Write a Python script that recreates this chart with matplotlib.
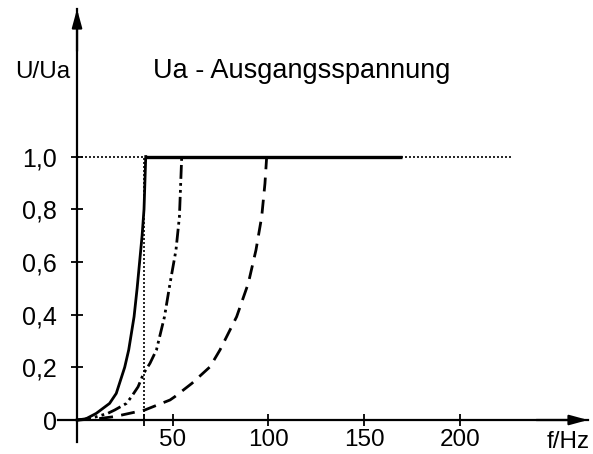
import matplotlib

matplotlib.use("Agg")
import matplotlib.pyplot as plt  # noqa: E402

plt.rcParams["font.family"] = ["Liberation Sans", "DejaVu Sans"]

# curves (f in Hz, U/Ua)
solid_f = [0, 4, 10, 17, 20.5, 24.9, 27.0, 29.8, 31.4, 32.7, 34, 35, 35.9]
solid_u = [0, 0.002, 0.025, 0.063, 0.101, 0.2, 0.266, 0.392, 0.5, 0.6, 0.7, 0.8, 1.0]
dashdot_f = [0, 8, 16, 19.7, 25.8, 28.4, 31.9, 34.8, 38.1, 41.5, 45.7, 48.6, 51.7,
             53.5, 54.7]
dashdot_u = [0, 0.008, 0.025, 0.038, 0.063, 0.088, 0.126, 0.177, 0.215, 0.266, 0.392,
             0.519, 0.645, 0.772, 1.0]
dashed_f = [0, 10, 19.7, 35.4, 48.6, 51, 60, 69.5, 74.7, 83.4, 89.5, 93.5, 96.5,
            98.2, 99.1]
dashed_u = [0, 0.004, 0.013, 0.038, 0.076, 0.088, 0.139, 0.202, 0.266, 0.392, 0.519,
            0.645, 0.772, 0.898, 1.0]

plateau_f = [35.9, 170]
reference_f = [0, 227]
marker_f = 35.2

x_ticks = [marker_f, 50, 100, 150, 200]
x_labels = ["", "50", "100", "150", "200"]
y_ticks = [0, 0.2, 0.4, 0.6, 0.8, 1.0]
y_labels = ["0", "0,2", "0,4", "0,6", "0,8", "1,0"]

fig = plt.figure(figsize=(5.93, 4.54), dpi=100)
ax = fig.add_axes([57.9 / 593, 11.6 / 454, (588 - 57.9) / 593, (445 - 11.6) / 454])
ax.set_xlim(-10, 267)
ax.set_ylim(-0.085, 1.56)

for side in ("top", "right"):
    ax.spines[side].set_visible(False)
ax.spines["left"].set_position(("data", 0))
ax.spines["bottom"].set_position(("data", 0))
ax.spines["left"].set_linewidth(1.6)
ax.spines["bottom"].set_linewidth(1.6)

ax.set_xticks(x_ticks)
ax.set_xticklabels(x_labels)
ax.set_yticks(y_ticks)
ax.set_yticklabels(y_labels)
ax.tick_params(direction="inout", length=9, width=1.3, labelsize=18)
ax.tick_params(axis="x", labelsize=17.5, pad=2)
ax.tick_params(axis="y", pad=10)

# reference lines
ax.plot(reference_f, [1, 1], color="k", lw=1.2, ls=(0, (1.2, 1.2)))
ax.plot([marker_f, marker_f], [0, 1], color="k", lw=1.2, ls=(0, (1.2, 1.2)))

ax.plot(solid_f, solid_u, color="k", lw=2.0)
ax.plot(dashdot_f, dashdot_u, color="k", lw=2.0, ls=(0, (5, 1.5, 1, 1.5, 1, 1.5)))
ax.plot(dashed_f, dashed_u, color="k", lw=2.0, ls=(0, (5, 3)))
ax.plot(plateau_f, [1, 1], color="k", lw=2.4, solid_capstyle="butt")

# axis arrows
arrow = dict(arrowstyle="-|>,head_length=1.1,head_width=0.3", color="k",
             lw=1.6, shrinkA=0, shrinkB=0, mutation_scale=10)
ax.annotate("", xy=(267, 0), xytext=(240, 0), arrowprops=arrow, annotation_clip=False)
ax.annotate("", xy=(0, 1.56), xytext=(0, 1.4), arrowprops=arrow, annotation_clip=False)

# labels
fig.text(15 / 593, 1 - 78 / 454, "U/Ua", fontsize=17.5, va="baseline")
fig.text(153 / 593, 1 - 78 / 454, "Ua - Ausgangsspannung", fontsize=19.5, va="baseline")
fig.text(590 / 593, 1 - 448 / 454, "f/Hz", fontsize=17.5, ha="right", va="baseline")

fig.savefig("out.png", dpi=100)
